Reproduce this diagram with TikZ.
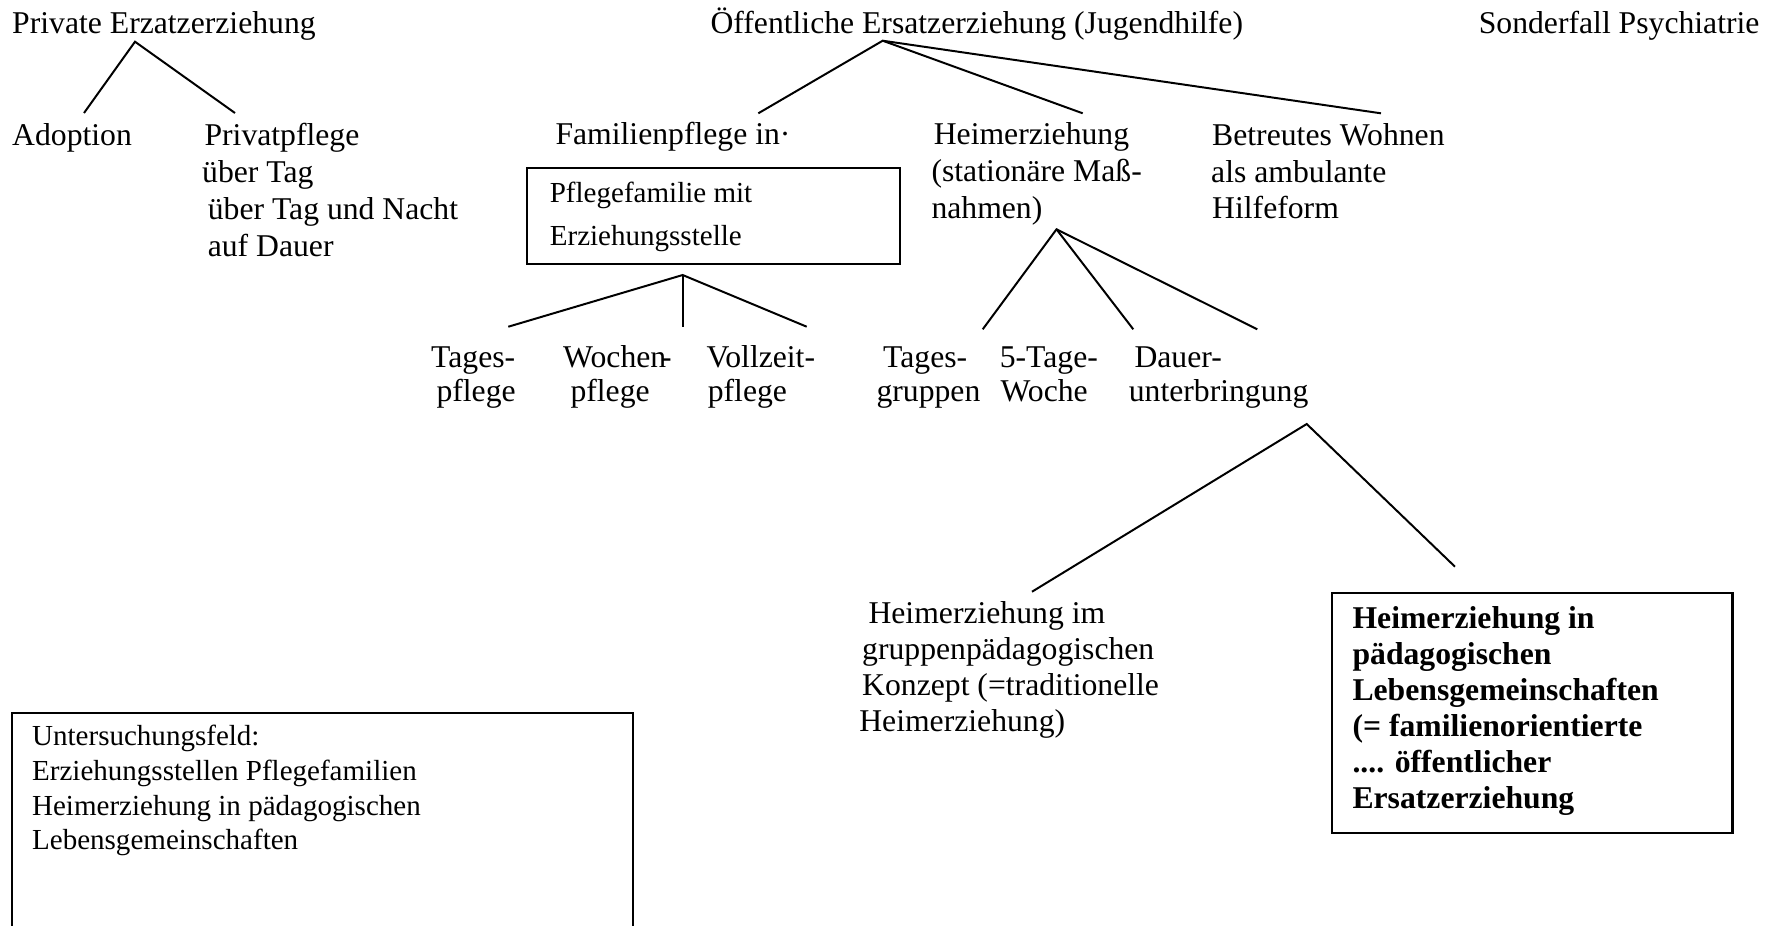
\documentclass[tikz,border=0pt]{standalone}
\usepackage{fontspec}
\setmainfont{Liberation Serif}
\begin{document}
\begin{tikzpicture}[x=0.37879pt, y=-0.37879pt,
  txt/.style={inner sep=0pt, anchor=base west, font=\fontsize{12}{13.8}\selectfont},
  small/.style={inner sep=0pt, anchor=base west, font=\fontsize{11}{13}\selectfont},
  boldtxt/.style={inner sep=0pt, anchor=base west, font=\fontsize{12}{13.8}\selectfont\bfseries},
  conn/.style={line width=0.75pt},
  frame/.style={draw, line width=0.8pt, inner sep=0pt, anchor=north west}]
\useasboundingbox (0,0) rectangle (1771,925);
\clip (0,0) rectangle (1771,925);

% headings
\node[txt] (priv) at (11.7,33.3) {Private Erzatzerziehung};
\node[txt] (oeff) at (710,33.3) {Öffentliche Ersatzerziehung (Jugendhilfe)};
\node[txt] (sond) at (1478.3,33.3) {Sonderfall Psychiatrie};

% private branch
\node[txt] (adop) at (11.7,145) {Adoption};
\node[txt] (pp1) at (204,145) {Privatpflege};
\node[txt] (pp2) at (201.7,182) {über Tag};
\node[txt] (pp3) at (207.3,219) {über Tag und Nacht};
\node[txt] (pp4) at (207.3,256) {auf Dauer};

% public branch
\node[txt] (fam) at (555,144) {Familienpflege in·};
\node[frame, minimum width=373*0.37879pt, minimum height=96.5*0.37879pt] (fbox) at (526,166.7) {};
\node[small] (fb1) at (549.3,202.7) {Pflegefamilie mit};
\node[small] (fb2) at (549.3,245) {Erziehungsstelle};

\node[txt] (he1) at (933.3,144) {Heimerziehung};
\node[txt] (he2) at (931,181) {(stationäre Maß-};
\node[txt] (he3) at (931,218) {nahmen)};

\node[txt] (bw1) at (1211.7,145) {Betreutes Wohnen};
\node[txt] (bw2) at (1210.7,182) {als ambulante};
\node[txt] (bw3) at (1211.7,218.3) {Hilfeform};

% foster care types
\node[txt] (tp1) at (430.7,367) {Tages-};
\node[txt] (tp2) at (436,401.7) {pflege};
\node[txt] (wp1) at (562.7,367) {Wochen\kern-2pt-};
\node[txt] (wp2) at (570,401.7) {pflege};
\node[txt] (vp1) at (706,367) {Vollzeit-};
\node[txt] (vp2) at (707.3,401.7) {pflege};

% residential types
\node[txt] (tg1) at (882.7,367) {Tages-};
\node[txt] (tg2) at (876,401.7) {gruppen};
\node[txt] (fw1) at (999.3,367) {5-Tage-};
\node[txt] (fw2) at (1000,401.7) {Woche};
\node[txt] (du1) at (1134,367) {Dauer-};
\node[txt] (du2) at (1128.3,401.7) {unterbringung};

% lower level
\node[txt] (gp1) at (868,623) {Heimerziehung im};
\node[txt] (gp2) at (861.7,659) {gruppenpädagogischen};
\node[txt] (gp3) at (861.7,695) {Konzept (=traditionelle};
\node[txt] (gp4) at (858.8,731.7) {Heimerziehung)};

\node[frame, line width=1pt, minimum width=400.5*0.37879pt, minimum height=240*0.37879pt] (lbox) at (1330.5,591.7) {};
\node[boldtxt] (lb1) at (1352,628) {Heimerziehung in};
\node[boldtxt] (lb2) at (1352,664) {pädagogischen};
\node[boldtxt] (lb3) at (1352,700) {Lebensgemeinschaften};
\node[boldtxt] (lb4) at (1352,736) {(= familienorientierte};
\node[boldtxt] (lb5) at (1352,772) {.... öffentlicher};
\node[boldtxt] (lb6) at (1352,808) {Ersatzerziehung};

% study field box
\node[frame, minimum width=621.5*0.37879pt, minimum height=240*0.37879pt] (ubox) at (10.5,711.7) {};
\node[small] (ub1) at (31.6,745) {Untersuchungsfeld:};
\node[small] (ub2) at (31.6,780) {Erziehungsstellen Pflegefamilien};
\node[small] (ub3) at (31.6,815) {Heimerziehung in pädagogischen};
\node[small] (ub4) at (31.6,849) {Lebensgemeinschaften};

% connector coordinates
\coordinate (pA) at (135,41.7);
\coordinate (pL) at (84,113);
\coordinate (pR) at (235,113);
\coordinate (oA) at (882.7,40.7);
\coordinate (oL) at (758.3,113.3);
\coordinate (oM) at (1082.7,113.3);
\coordinate (oR) at (1381,113.3);
\coordinate (fA) at (682.7,275);
\coordinate (fL) at (508.3,326.7);
\coordinate (fM) at (682.7,327.3);
\coordinate (fR) at (806.7,326.7);
\coordinate (hA) at (1056.5,229.3);
\coordinate (hL) at (982.7,329.3);
\coordinate (hM) at (1133.3,329.3);
\coordinate (hR) at (1257.3,329.3);
\coordinate (dA) at (1306.7,424);
\coordinate (dL) at (1032,591.7);
\coordinate (dR) at (1455,566.7);

\draw[conn] (pL) -- (pA) -- (pR);
\draw[conn] (oL) -- (oA) -- (oM);
\draw[conn] (oA) -- (oR);
\draw[conn] (fL) -- (fA) -- (fR);
\draw[conn] (fA) -- (fM);
\draw[conn] (hL) -- (hA) -- (hR);
\draw[conn] (hA) -- (hM);
\draw[conn] (dL) -- (dA) -- (dR);
\end{tikzpicture}
\end{document}
